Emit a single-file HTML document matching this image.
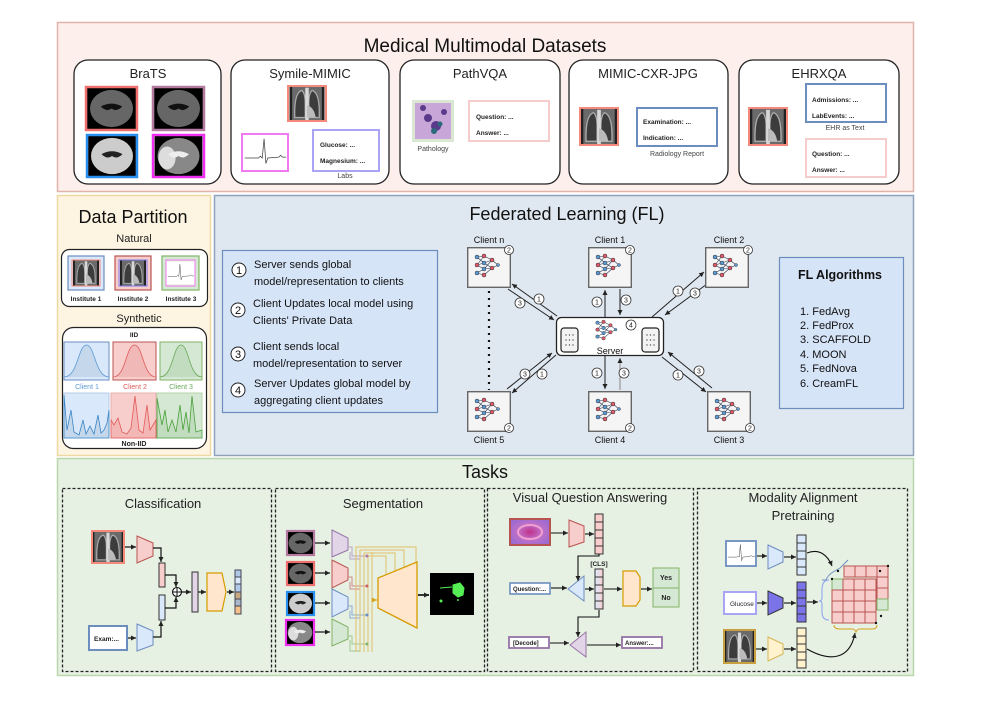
<!DOCTYPE html>
<html><head><meta charset="utf-8"><style>
html,body{margin:0;padding:0;background:#fff;width:996px;height:703px;overflow:hidden}
svg{display:block;font-family:"Liberation Sans",Arial,sans-serif}
</style></head><body>
<svg width="996" height="703" viewBox="0 0 996 703" xmlns="http://www.w3.org/2000/svg">
<defs>
<marker id="ah" markerWidth="8" markerHeight="8" refX="7" refY="4" orient="auto" markerUnits="userSpaceOnUse"><path d="M0,0.8 L7,4 L0,7.2 Z" fill="#111"/></marker>
<marker id="ahs" markerWidth="6" markerHeight="6" refX="5" refY="3" orient="auto" markerUnits="userSpaceOnUse"><path d="M0,0.5 L5,3 L0,5.5 Z" fill="#222"/></marker>
<marker id="ahy" markerWidth="6" markerHeight="6" refX="5" refY="3" orient="auto" markerUnits="userSpaceOnUse"><path d="M0,0.5 L5,3 L0,5.5 Z" fill="#d6a21b"/></marker>
<radialGradient id="path" cx="50%" cy="50%" r="60%"><stop offset="0" stop-color="#c0308a"/><stop offset="0.5" stop-color="#c070c8"/><stop offset="1" stop-color="#9a6ad0"/></radialGradient>
<symbol id="xray" viewBox="0 0 40 40">
<rect width="40" height="40" fill="#6a6a6a"/>
<rect x="0" y="0" width="3" height="40" fill="#222"/><rect x="37" y="0" width="3" height="40" fill="#222"/>
<path d="M6 36 Q5 8 14 5 Q18 8 18 20 L18 36Z" fill="#3c3c3c" stroke="#aaa" stroke-width="1.5"/>
<path d="M34 36 Q35 8 26 5 Q22 8 22 20 L22 36Z" fill="#3c3c3c" stroke="#aaa" stroke-width="1.5"/>
<rect x="18" y="2" width="4" height="38" fill="#d8d8d8"/>
<path d="M20 22 Q28 24 30 36 L20 36Z" fill="#bbb"/>
</symbol>
<symbol id="brain" viewBox="0 0 50 44">
<rect width="50" height="44" fill="#000"/>
<ellipse cx="25" cy="22" rx="22" ry="19" fill="#666"/>
<path d="M14 20 Q25 14 36 20 Q30 26 25 22 Q20 26 14 20Z" fill="#111"/>
</symbol>
<symbol id="brainw" viewBox="0 0 50 44">
<rect width="50" height="44" fill="#000"/>
<ellipse cx="25" cy="22" rx="22" ry="19" fill="#ccc"/>
<path d="M14 20 Q25 14 36 20 Q30 26 25 22 Q20 26 14 20Z" fill="#222"/>
</symbol>
<symbol id="brainf" viewBox="0 0 50 44">
<rect width="50" height="44" fill="#000"/>
<ellipse cx="25" cy="22" rx="22" ry="19" fill="#888"/>
<ellipse cx="13" cy="24" rx="9" ry="12" fill="#ddd"/>
<path d="M14 20 Q25 14 36 20 Q30 26 25 22 Q20 26 14 20Z" fill="#eee"/>
</symbol>
<symbol id="nn" viewBox="0 0 30 26">
<g stroke="#2b3a55" stroke-width="0.6" fill="none">
<path d="M4 4L11 3M4 4L11 10M4 12L11 3M4 12L11 10M4 12L11 16M4 20L11 16M4 20L11 22M11 3L19 7M11 10L19 7M11 10L19 15M11 16L19 15M11 22L19 15M11 16L19 7M19 7L25 12M19 15L25 12"/>
</g>
<g stroke="#333" stroke-width="0.5">
<circle cx="4" cy="4" r="2" fill="#5b9bd5"/><circle cx="4" cy="12" r="2" fill="#e05a6a"/><circle cx="4" cy="20" r="2" fill="#5b9bd5"/>
<circle cx="11" cy="3" r="2" fill="#e05a6a"/><circle cx="11" cy="10" r="2" fill="#5b9bd5"/><circle cx="11" cy="16" r="2" fill="#5b9bd5"/><circle cx="11" cy="22" r="2" fill="#e05a6a"/>
<circle cx="19" cy="7" r="2" fill="#e05a6a"/><circle cx="19" cy="15" r="2" fill="#e05a6a"/><circle cx="25" cy="12" r="1.5" fill="#5b9bd5"/>
</g>
</symbol>
<symbol id="client" viewBox="0 0 44 41" overflow="visible">
<rect x="0.7" y="0.7" width="42.6" height="39.6" fill="#f5f5f5" stroke="#666" stroke-width="1.4"/>
<use href="#nn" x="6" y="6" width="30" height="26"/>
</symbol>
<symbol id="ecg" viewBox="0 0 50 40">
<rect width="50" height="40" fill="#fff"/>
<path d="M3 26 L18 26 L20 24 L22 26 L24 5 L26 32 L28 26 L40 25 L42 23 L44 25 L48 25" stroke="#444" stroke-width="0.8" fill="none"/>
</symbol>
<linearGradient id="cg" x1="0" x2="1"><stop offset="0" stop-color="#dae8fc"/><stop offset="1" stop-color="#f8cecc"/></linearGradient>
</defs>

<!-- ===== TOP PANEL ===== -->
<rect x="57.5" y="22.5" width="856" height="169" fill="#fcefec" stroke="#e0b3ab" stroke-width="1.5"/>
<text x="485" y="52" font-size="19" text-anchor="middle" fill="#111">Medical Multimodal Datasets</text>

<g fill="#fff" stroke="#222" stroke-width="1.3">
<rect x="74" y="60" width="147" height="124" rx="14"/>
<rect x="231" y="60" width="158" height="124" rx="14"/>
<rect x="400" y="60" width="160" height="124" rx="14"/>
<rect x="569" y="60" width="159" height="124" rx="14"/>
<rect x="739" y="60" width="160" height="124" rx="14"/>
</g>
<g font-size="13" text-anchor="middle" fill="#222">
<text x="148" y="78">BraTS</text><text x="310" y="78">Symile-MIMIC</text><text x="480" y="78">PathVQA</text><text x="648" y="78">MIMIC-CXR-JPG</text><text x="819" y="78">EHRXQA</text>
</g>
<use href="#brain" x="86" y="87" width="51" height="43"/><rect x="86" y="87" width="51" height="43" fill="none" stroke="#f07070" stroke-width="2.5"/>
<use href="#brain" x="153" y="87" width="51" height="43"/><rect x="153" y="87" width="51" height="43" fill="none" stroke="#b47aa0" stroke-width="2.5"/>
<use href="#brainw" x="87" y="135" width="50" height="42"/><rect x="87" y="135" width="50" height="42" fill="none" stroke="#2a8fef" stroke-width="2.5"/>
<use href="#brainf" x="153" y="135" width="51" height="42"/><rect x="153" y="135" width="51" height="42" fill="none" stroke="#f030f0" stroke-width="2.5"/>
<use href="#xray" x="288" y="86" width="38" height="35"/><rect x="288" y="86" width="38" height="35" fill="none" stroke="#f58a7a" stroke-width="2"/>
<use href="#ecg" x="242" y="134" width="46" height="37"/><rect x="242" y="134" width="46" height="37" fill="none" stroke="#f27af0" stroke-width="2"/>
<rect x="313" y="130" width="66" height="41" fill="#fff" stroke="#a9a4f4" stroke-width="2"/>
<g font-size="6.5" font-weight="bold" fill="#222"><text x="320" y="147">Glucose: ...</text><text x="320" y="163">Magnesium: ...</text></g>
<text x="345" y="178" font-size="7" text-anchor="middle" fill="#444">Labs</text>
<rect x="412" y="100" width="42" height="42" fill="#d9e7d3"/>
<rect x="415" y="103" width="36" height="36" fill="#c9a6d8"/>
<g fill="#5a3a8a"><circle cx="428" cy="118" r="4"/><circle cx="436" cy="126" r="5"/><circle cx="423" cy="108" r="3"/><circle cx="444" cy="112" r="3"/></g>
<g fill="#2a6a7a"><circle cx="434" cy="131" r="3"/><circle cx="440" cy="124" r="2.5"/></g>
<text x="433" y="151" font-size="7" text-anchor="middle" fill="#444">Pathology</text>
<rect x="469" y="101" width="80" height="40" fill="#fff" stroke="#f4cccc" stroke-width="2"/>
<g font-size="6.5" font-weight="bold" fill="#222"><text x="476" y="119">Question: ...</text><text x="476" y="135">Answer: ...</text></g>
<use href="#xray" x="580" y="108" width="38" height="37"/><rect x="580" y="108" width="38" height="37" fill="none" stroke="#f58a7a" stroke-width="2"/>
<rect x="637" y="108" width="80" height="38" fill="#fff" stroke="#6c8ebf" stroke-width="2"/>
<g font-size="6.5" font-weight="bold" fill="#222"><text x="643" y="124">Examination: ...</text><text x="643" y="140">Indication: ...</text></g>
<text x="677" y="156" font-size="7" text-anchor="middle" fill="#444">Radiology Report</text>
<use href="#xray" x="749" y="108" width="38" height="37"/><rect x="749" y="108" width="38" height="37" fill="none" stroke="#f58a7a" stroke-width="2"/>
<rect x="806" y="84" width="80" height="38" fill="#fff" stroke="#6c8ebf" stroke-width="2"/>
<g font-size="6.5" font-weight="bold" fill="#222"><text x="812" y="102">Admissions: ...</text><text x="812" y="118">LabEvents: ...</text></g>
<text x="845" y="130" font-size="7" text-anchor="middle" fill="#444">EHR as Text</text>
<rect x="806" y="139" width="80" height="38" fill="#fff" stroke="#f4cccc" stroke-width="2"/>
<g font-size="6.5" font-weight="bold" fill="#222"><text x="812" y="156">Question: ...</text><text x="812" y="172">Answer: ...</text></g>

<!-- ===== DATA PARTITION ===== -->
<rect x="57.5" y="195.5" width="153" height="260" fill="#fdf4e1" stroke="#efd9a3" stroke-width="1.5"/>
<text x="133" y="223" font-size="18" text-anchor="middle" fill="#111">Data Partition</text>
<text x="134" y="242" font-size="11" text-anchor="middle" fill="#222">Natural</text>
<rect x="61.5" y="249.5" width="146" height="57" rx="8" fill="#fff" stroke="#222" stroke-width="1.2"/>
<rect x="68" y="256" width="36" height="34" fill="#dae8fc" stroke="#6c8ebf" stroke-width="1.2"/>
<use href="#xray" x="72" y="260" width="28" height="26"/><rect x="72" y="260" width="28" height="26" fill="none" stroke="#f58a7a" stroke-width="1"/>
<rect x="115" y="256" width="36" height="34" fill="#f8cecc" stroke="#b85450" stroke-width="1.2"/>
<use href="#xray" x="119" y="260" width="28" height="26"/><rect x="119" y="260" width="28" height="26" fill="none" stroke="#7a7af0" stroke-width="1"/>
<rect x="162" y="256" width="37" height="34" fill="#d5e8d4" stroke="#82b366" stroke-width="1.2"/>
<use href="#ecg" x="166" y="260" width="29" height="26"/><rect x="166" y="260" width="29" height="26" fill="none" stroke="#f27af0" stroke-width="1"/>
<g font-size="6.5" font-weight="bold" fill="#222" text-anchor="middle"><text x="86" y="301">Institute 1</text><text x="133" y="301">Institute 2</text><text x="181" y="301">Institute 3</text></g>
<text x="139" y="322" font-size="11" text-anchor="middle" fill="#222">Synthetic</text>
<rect x="62.5" y="327.5" width="144" height="121" rx="11" fill="#fff" stroke="#222" stroke-width="1.2"/>
<text x="134" y="337" font-size="6.5" font-weight="bold" text-anchor="middle" fill="#222">IID</text>
<rect x="64" y="342" width="45" height="38" fill="#dae8fc" stroke="#6c8ebf"/>
<path d="M64,377 C78,377 78,345 86.5,345 C95,345 95,377 109,377" fill="#c5d7ea" stroke="#5b9bd5" stroke-width="0.8"/>
<rect x="113" y="342" width="43" height="38" fill="#f8cecc" stroke="#b85450"/>
<path d="M113,377 C126,377 126,345 134.5,345 C143,345 143,377 156,377" fill="#f0b8b6" stroke="#e05a5a" stroke-width="0.8"/>
<rect x="160" y="342" width="42" height="38" fill="#d5e8d4" stroke="#82b366"/>
<path d="M160,377 C173,377 173,345 181,345 C189,345 189,377 202,377" fill="#c2dcc0" stroke="#6aaa5a" stroke-width="0.8"/>
<g font-size="7" text-anchor="middle"><text x="87" y="389" fill="#5b9bd5">Client 1</text><text x="135" y="389" fill="#e05a5a">Client 2</text><text x="181" y="389" fill="#6aaa5a">Client 3</text></g>
<rect x="64" y="393" width="45" height="45" fill="#dae8fc" stroke="#b8cce4"/>
<path d="M64,395 L67,430 L71,410 L74,432 L79,435 L83,420 L86,434 L90,426 L94,434 L98,415 L101,433 L104,430 L107,423 L109,410 L109,438 L64,438Z" fill="#c5d7ea" stroke="#3a85c5" stroke-width="0.8"/>
<rect x="111" y="393" width="45" height="45" fill="#f8cecc" stroke="#e6b0ae"/>
<path d="M111,420 L114,425 L118,418 L122,432 L127,434 L131,428 L135,396 L139,430 L143,433 L147,405 L150,430 L156,420 L156,438 L111,438Z" fill="#f3b8b6" stroke="#e05a5a" stroke-width="0.8"/>
<rect x="157" y="393" width="45" height="45" fill="#d5e8d4" stroke="#b5d4a9"/>
<path d="M157,398 L162,425 L165,410 L168,432 L172,420 L176,432 L180,405 L183,430 L186,412 L189,433 L192,396 L196,432 L202,430 L202,438 L157,438Z" fill="#c2dcc0" stroke="#4aa03a" stroke-width="0.8"/>
<text x="134" y="446" font-size="7" font-weight="bold" text-anchor="middle" fill="#222">Non-IID</text>

<!-- ===== FL PANEL ===== -->
<rect x="214.5" y="195.5" width="699" height="260" fill="#dfe7f0" stroke="#8ea2b9" stroke-width="1.5"/>
<text x="567" y="220" font-size="18" text-anchor="middle" fill="#111">Federated Learning (FL)</text>
<rect x="222.5" y="250.5" width="215" height="162" fill="#d6e4f8" stroke="#6c8ebf" stroke-width="1.2"/>
<g fill="#fff" stroke="#222" stroke-width="1"><circle cx="239" cy="270" r="7"/><circle cx="238" cy="310" r="7"/><circle cx="238" cy="354" r="7"/><circle cx="238" cy="390" r="7"/></g>
<g font-size="11" text-anchor="middle" fill="#111"><text x="239" y="274">1</text><text x="238" y="314">2</text><text x="238" y="358">3</text><text x="238" y="394">4</text></g>
<g font-size="11" fill="#111">
<text x="254" y="268">Server sends global</text><text x="254" y="285">model/representation to clients</text>
<text x="253" y="307">Client Updates local model using</text><text x="253" y="324">Clients' Private Data</text>
<text x="253" y="350">Client sends local</text><text x="253" y="367">model/representation to server</text>
<text x="254" y="387">Server Updates global model by</text><text x="254" y="404">aggregating client updates</text>
</g>
<rect x="779.5" y="257.5" width="124" height="151" fill="#d6e4f8" stroke="#6c8ebf" stroke-width="1.2"/>
<text x="840" y="279" font-size="12.5" font-weight="bold" text-anchor="middle" fill="#111">FL Algorithms</text>
<g font-size="11" fill="#111"><text x="800" y="315">1. FedAvg</text><text x="800" y="329">2. FedProx</text><text x="800" y="343">3. SCAFFOLD</text><text x="800" y="358">4. MOON</text><text x="800" y="372">5. FedNova</text><text x="800" y="387">6. CreamFL</text></g>

<line x1="489" y1="291" x2="489" y2="390" stroke="#111" stroke-width="2.2" stroke-dasharray="2,5"/>
<g stroke="#222" stroke-width="1" marker-end="url(#ahs)">
<line x1="508" y1="289" x2="554" y2="320"/><line x1="557" y1="316" x2="512" y2="284"/>
<line x1="605" y1="317" x2="605" y2="290"/><line x1="620" y1="289" x2="620" y2="315"/>
<line x1="652" y1="317" x2="704" y2="272"/><line x1="707" y1="284" x2="665" y2="315"/>
<line x1="556" y1="355" x2="512" y2="393"/><line x1="507" y1="389" x2="552" y2="353"/>
<line x1="605" y1="356" x2="605" y2="389"/><line x1="620" y1="390" x2="620" y2="358" stroke="#888"/>
<line x1="662" y1="357" x2="706" y2="392"/><line x1="712" y1="388" x2="668" y2="352"/>
</g>
<g>
<use href="#client" x="467" y="247" width="44" height="41"/>
<use href="#client" x="588" y="247" width="44" height="41"/>
<use href="#client" x="705" y="247" width="44" height="41"/>
<use href="#client" x="467" y="391" width="44" height="41"/>
<use href="#client" x="588" y="391" width="44" height="41"/>
<use href="#client" x="707" y="391" width="44" height="41"/>
</g>
<g fill="#fff" stroke="#333" stroke-width="0.8">
<circle cx="509" cy="250" r="4.5"/><circle cx="630" cy="250" r="4.5"/><circle cx="748" cy="250" r="4.5"/>
<circle cx="509" cy="428" r="4.5"/><circle cx="630" cy="428" r="4.5"/><circle cx="750" cy="428" r="4.5"/>
</g>
<g font-size="7" text-anchor="middle" fill="#222"><text x="509" y="252.5">2</text><text x="630" y="252.5">2</text><text x="748" y="252.5">2</text><text x="509" y="430.5">2</text><text x="630" y="430.5">2</text><text x="750" y="430.5">2</text></g>
<g font-size="9" text-anchor="middle" fill="#111">
<text x="489" y="243">Client n</text><text x="610" y="243">Client 1</text><text x="729" y="243">Client 2</text>
<text x="489" y="443">Client 5</text><text x="610" y="443">Client 4</text><text x="729" y="443">Client 3</text>
</g>
<rect x="556.5" y="317.5" width="107" height="38" rx="5" fill="#fff" stroke="#222" stroke-width="1.3"/>
<rect x="561" y="328" width="17" height="24" rx="3" fill="#f3f3f3" stroke="#222" stroke-width="1.2"/>
<rect x="642" y="328" width="17" height="24" rx="3" fill="#f3f3f3" stroke="#222" stroke-width="1.2"/>
<g fill="#555"><circle cx="566" cy="335" r="0.7"/><circle cx="569.5" cy="335" r="0.7"/><circle cx="573" cy="335" r="0.7"/><circle cx="566" cy="340" r="0.7"/><circle cx="569.5" cy="340" r="0.7"/><circle cx="573" cy="340" r="0.7"/><circle cx="566" cy="345" r="0.7"/><circle cx="569.5" cy="345" r="0.7"/><circle cx="573" cy="345" r="0.7"/>
<circle cx="647" cy="335" r="0.7"/><circle cx="650.5" cy="335" r="0.7"/><circle cx="654" cy="335" r="0.7"/><circle cx="647" cy="340" r="0.7"/><circle cx="650.5" cy="340" r="0.7"/><circle cx="654" cy="340" r="0.7"/><circle cx="647" cy="345" r="0.7"/><circle cx="650.5" cy="345" r="0.7"/><circle cx="654" cy="345" r="0.7"/></g>
<use href="#nn" x="594" y="319" width="26" height="23"/>
<text x="610" y="354" font-size="9" text-anchor="middle" fill="#111">Server</text>
<g fill="#fff" stroke="#333" stroke-width="0.8">
<circle cx="631" cy="325" r="5"/>
<circle cx="539" cy="299" r="5"/><circle cx="520" cy="303" r="5"/>
<circle cx="597" cy="302" r="5"/><circle cx="626" cy="300" r="5"/>
<circle cx="678" cy="291" r="5"/><circle cx="695" cy="293" r="5"/>
<circle cx="525" cy="374" r="5"/><circle cx="542" cy="374" r="5"/>
<circle cx="597" cy="373" r="5"/><circle cx="624" cy="373" r="5"/>
<circle cx="678" cy="375" r="5"/><circle cx="699" cy="371" r="5"/>
</g>
<g font-size="7" text-anchor="middle" fill="#222">
<text x="631" y="327.5">4</text>
<text x="539" y="301.5">1</text><text x="520" y="305.5">3</text>
<text x="597" y="304.5">1</text><text x="626" y="302.5">3</text>
<text x="678" y="293.5">1</text><text x="695" y="295.5">3</text>
<text x="525" y="376.5">3</text><text x="542" y="376.5">1</text>
<text x="597" y="375.5">1</text><text x="624" y="375.5">3</text>
<text x="678" y="377.5">1</text><text x="699" y="373.5">3</text>
</g>

<!-- ===== TASKS ===== -->
<rect x="57.5" y="458.5" width="856" height="217" fill="#e6f0e3" stroke="#b9d7ab" stroke-width="1.5"/>
<text x="485" y="478" font-size="18" text-anchor="middle" fill="#111">Tasks</text>
<g fill="none" stroke="#222" stroke-width="1.3" stroke-dasharray="3,2">
<rect x="62.5" y="488.5" width="209" height="183"/>
<rect x="275.5" y="488.5" width="209" height="183"/>
<rect x="487.5" y="488.5" width="206" height="183"/>
<rect x="697.5" y="488.5" width="210" height="183"/>
</g>
<g font-size="13" text-anchor="middle" fill="#222">
<text x="163" y="508">Classification</text><text x="383" y="508">Segmentation</text><text x="590" y="502">Visual Question Answering</text>
<text x="803" y="502">Modality Alignment</text><text x="803" y="520">Pretraining</text>
</g>

<use href="#xray" x="92" y="531" width="32" height="32"/><rect x="92" y="531" width="32" height="32" fill="none" stroke="#f58a7a" stroke-width="2"/>
<rect x="89" y="626" width="38" height="24" fill="#fff" stroke="#6c8ebf" stroke-width="2"/>
<text x="94" y="641" font-size="6.5" font-weight="bold" fill="#222">Exam:...</text>
<path d="M137,536 L153,543 L153,556 L137,563Z" fill="#f8cecc" stroke="#b85450"/>
<path d="M137,624 L153,631 L153,645 L137,651Z" fill="#dae8fc" stroke="#6c8ebf"/>
<rect x="159" y="563" width="6" height="24" fill="#f8cecc" stroke="#333"/>
<rect x="159" y="595" width="6" height="25" fill="#dae8fc" stroke="#333"/>
<g stroke="#111" stroke-width="1.2" fill="none" marker-end="url(#ahs)">
<line x1="125" y1="547" x2="136" y2="547"/><line x1="128" y1="638" x2="136" y2="638"/>
<path d="M153,548 L161,548 L161,562"/><path d="M153,637 L161,637 L161,621"/>
<path d="M165,575 L176,575 L176,587"/><path d="M165,608 L176,608 L176,597"/>
<line x1="182" y1="592" x2="191" y2="592"/><line x1="198" y1="592" x2="206" y2="592"/><line x1="227" y1="592" x2="234" y2="592"/>
</g>
<circle cx="177" cy="592" r="4.5" fill="#fff" stroke="#111" stroke-width="1.1"/>
<path d="M172.5,592 H181.5 M177,587.5 V596.5" stroke="#111" stroke-width="1"/>
<rect x="192" y="572" width="6" height="40" fill="#e1d5e7" stroke="#333"/>
<path d="M207,573 L222,573 L226,592 L222,611 L207,611Z" fill="#ffe6cc" stroke="#d79b00" stroke-width="1.2"/>
<g stroke="#445" stroke-width="1">
<rect x="235" y="570" width="6" height="7" fill="#b1c9e6"/><rect x="235" y="577" width="6" height="7" fill="#dae8fc"/><rect x="235" y="584" width="6" height="8" fill="#b1c9e6"/><rect x="235" y="592" width="6" height="7" fill="#c8a882"/><rect x="235" y="599" width="6" height="7" fill="#a9b8c8"/><rect x="235" y="606" width="6" height="8" fill="#f5c08a"/>
</g>

<use href="#brain" x="287" y="531" width="27" height="24"/><rect x="287" y="531" width="27" height="24" fill="none" stroke="#b47aa0" stroke-width="2.2"/>
<use href="#brain" x="287" y="562" width="27" height="23"/><rect x="287" y="562" width="27" height="23" fill="none" stroke="#f07070" stroke-width="2.2"/>
<use href="#brainw" x="287" y="592" width="27" height="23"/><rect x="287" y="592" width="27" height="23" fill="none" stroke="#2a8fef" stroke-width="2.2"/>
<use href="#brainf" x="286" y="620" width="28" height="25"/><rect x="286" y="620" width="28" height="25" fill="none" stroke="#f030f0" stroke-width="2.2"/>
<g stroke="#111" stroke-width="1.2" marker-end="url(#ahs)">
<line x1="315" y1="543" x2="330" y2="543"/><line x1="315" y1="573" x2="330" y2="573"/><line x1="315" y1="603" x2="330" y2="603"/><line x1="315" y1="632" x2="330" y2="632"/>
</g>
<path d="M332,530 L348,538 L348,550 L332,557Z" fill="#e1d5e7" stroke="#9673a6"/>
<path d="M332,560 L348,568 L348,580 L332,588Z" fill="#f8cecc" stroke="#b85450"/>
<path d="M332,589 L348,597 L348,609 L332,617Z" fill="#dae8fc" stroke="#6c8ebf"/>
<path d="M332,619 L348,627 L348,639 L332,646Z" fill="#d5e8d4" stroke="#82b366"/>
<g fill="none" stroke-width="1">
<path d="M348,547 L352,547 L352,556 L367,556 M350,552 L350,559 L360,559" stroke="#b8a0c8"/>
<path d="M348,577 L352,577 L352,586 L367,586 M350,582 L350,589 L360,589" stroke="#d08888"/>
<path d="M348,606 L352,606 L352,615 L367,615 M350,611 L350,618 L360,618" stroke="#8eaad0"/>
<path d="M348,636 L352,636 L352,644 L367,644 M350,640 L350,651 L360,651" stroke="#a0c890"/>
<path d="M356,652 L356,547 L416,547 L416,564 M360,652 L360,550 L404,550 L404,567 M364,652 L364,553 L395,553 L395,571 M368,652 L368,556 L386,556 L386,574 M371,600 L378,600 M372,652 L372,552" stroke="#e2c26a"/>
<path d="M372,600 L377,600" stroke="#d6a21b" marker-end="url(#ahy)"/>
</g>
<g fill="#b47aa0"><circle cx="367" cy="556" r="1.5"/></g><g fill="#d06060"><circle cx="367" cy="586" r="1.5"/></g><g fill="#6c8ebf"><circle cx="367" cy="615" r="1.5"/></g><g fill="#82b366"><circle cx="367" cy="644" r="1.5"/></g>
<path d="M378,578 L417,562 L417,628 L378,608Z" fill="#ffe6cc" stroke="#d79b00" stroke-width="1.3"/>
<line x1="418" y1="595" x2="429" y2="595" stroke="#333" stroke-width="2" marker-end="url(#ahs)"/>
<rect x="430" y="573" width="44" height="42" fill="#000"/>
<path d="M453,585 L460,583 L464,588 L463,595 L458,597 L453,593Z M440,588 L452,587" fill="#55ee55" stroke="#55ee55"/>
<circle cx="441" cy="601" r="1.5" fill="#55ee55"/><circle cx="458" cy="600" r="1" fill="#55ee55"/>

<rect x="510" y="519" width="40" height="26" fill="url(#path)" stroke="#b85450" stroke-width="2"/>
<ellipse cx="530" cy="532" rx="12" ry="7" fill="none" stroke="#f0a0d0" stroke-width="2"/>
<path d="M569,520 L584,526 L584,542 L569,547Z" fill="#f8cecc" stroke="#b85450"/>
<g stroke="#333" fill="#f8cecc"><rect x="595" y="514" width="8" height="8"/><rect x="595" y="522" width="8" height="8"/><rect x="595" y="530" width="8" height="8"/><rect x="595" y="538" width="8" height="8"/><rect x="595" y="546" width="8" height="8"/></g>
<text x="599" y="566" font-size="6.5" font-weight="bold" text-anchor="middle" fill="#222">[CLS]</text>
<rect x="510" y="583" width="40" height="11" fill="#fff" stroke="#6c8ebf" stroke-width="1.6"/>
<text x="513" y="591" font-size="6" font-weight="bold" fill="#222">Question:...</text>
<path d="M568,589 L584,576 L584,601 Z" fill="#dae8fc" stroke="#6c8ebf"/>
<g stroke="#333" fill="url(#cg)"><rect x="595" y="569" width="8" height="8"/><rect x="595" y="577" width="8" height="8"/><rect x="595" y="585" width="8" height="8"/><rect x="595" y="593" width="8" height="8"/><rect x="595" y="601" width="8" height="8"/></g>
<path d="M623,571 L636,571 L640,577 L640,600 L636,606 L623,606Z" fill="#ffe6cc" stroke="#d79b00" stroke-width="1.2"/>
<rect x="653" y="568" width="26" height="20" fill="#d5e8d4" stroke="#82b366"/><rect x="653" y="588" width="26" height="19" fill="#d5e8d4" stroke="#82b366"/>
<g font-size="7" font-weight="bold" text-anchor="middle" fill="#222"><text x="666" y="580">Yes</text><text x="666" y="600">No</text></g>
<rect x="509" y="637" width="40" height="11" fill="#fff" stroke="#9673a6" stroke-width="1.8"/>
<text x="513" y="645" font-size="6" font-weight="bold" fill="#222">[Decode]</text>
<path d="M570,645 L586,632 L586,657Z" fill="#e1d5e7" stroke="#9673a6"/>
<rect x="622" y="637" width="40" height="11" fill="#fff" stroke="#9673a6" stroke-width="1.8"/>
<text x="625" y="645" font-size="6" font-weight="bold" fill="#222">Answer:...</text>
<g stroke="#111" stroke-width="1.1" fill="none" marker-end="url(#ahs)">
<line x1="551" y1="533" x2="568" y2="533"/><line x1="585" y1="534" x2="594" y2="534"/>
<path d="M599,554 L599,556 L578,556 L578,581"/>
<line x1="551" y1="588" x2="567" y2="588"/><line x1="585" y1="589" x2="594" y2="589"/>
<line x1="604" y1="589" x2="622" y2="589"/><line x1="641" y1="589" x2="652" y2="589"/>
<path d="M599,610 L599,617 L578,617 L578,637"/>
<line x1="550" y1="643" x2="569" y2="643"/><line x1="587" y1="645" x2="621" y2="645"/>
</g>

<use href="#ecg" x="726" y="541" width="30" height="25"/><rect x="726" y="541" width="30" height="25" fill="none" stroke="#6c8ebf" stroke-width="1.8"/>
<rect x="724" y="592" width="32" height="22" fill="#fff" stroke="#a9a4f4" stroke-width="2"/>
<text x="730" y="606" font-size="6.5" fill="#222">Glucose</text>
<use href="#xray" x="724" y="630" width="31" height="33"/><rect x="724" y="630" width="31" height="33" fill="none" stroke="#c9a040" stroke-width="2"/>
<path d="M768,545 L783,552 L783,562 L768,569Z" fill="#dae8fc" stroke="#6c8ebf"/>
<path d="M768,591 L783,598 L783,608 L768,615Z" fill="#7b74e8" stroke="#333"/>
<path d="M768,637 L783,644 L783,654 L768,661Z" fill="#fff2cc" stroke="#d6b656"/>
<g stroke="#333"><rect x="797" y="535" width="9" height="8" fill="#dae8fc"/><rect x="797" y="543" width="9" height="8" fill="#dae8fc"/><rect x="797" y="551" width="9" height="8" fill="#dae8fc"/><rect x="797" y="559" width="9" height="8" fill="#dae8fc"/><rect x="797" y="567" width="9" height="8" fill="#dae8fc"/>
<rect x="797" y="582" width="9" height="8" fill="#7b74e8"/><rect x="797" y="590" width="9" height="8" fill="#7b74e8"/><rect x="797" y="598" width="9" height="8" fill="#7b74e8"/><rect x="797" y="606" width="9" height="8" fill="#7b74e8"/><rect x="797" y="614" width="9" height="8" fill="#7b74e8"/>
<rect x="797" y="628" width="9" height="8" fill="#fff2cc"/><rect x="797" y="636" width="9" height="8" fill="#fff2cc"/><rect x="797" y="644" width="9" height="8" fill="#fff2cc"/><rect x="797" y="652" width="9" height="8" fill="#fff2cc"/><rect x="797" y="660" width="9" height="8" fill="#fff2cc"/></g>
<g stroke="#111" stroke-width="1.1" fill="none" marker-end="url(#ahs)">
<line x1="757" y1="556" x2="767" y2="556"/><line x1="784" y1="557" x2="796" y2="557"/>
<line x1="757" y1="603" x2="767" y2="603"/><line x1="784" y1="603" x2="796" y2="603"/><line x1="807" y1="602" x2="818" y2="602"/>
<line x1="756" y1="649" x2="767" y2="649"/><line x1="784" y1="649" x2="796" y2="649"/>
<path d="M807,553 C820,548 828,556 832,566"/>
<path d="M807,649 C830,662 850,660 855,633"/>
</g>
<path d="M822,580 L826,580 Q828,575 833,572 L840,568 Q845,563 848,560" fill="none" stroke="#6c8ebf" stroke-width="1"/>
<path d="M829,580 Q822,580 822,590 L822,598 Q822,601 819,601 Q822,601 822,604 L822,612 Q822,620 829,620" fill="none" stroke="#8aa0f0" stroke-width="1"/>
<path d="M834,625 Q834,629 840,629 L852,629 Q855,629 856,632 Q857,629 860,629 L872,629 Q877,629 877,625" fill="none" stroke="#d6a21b" stroke-width="1"/>
<g stroke="#b85450" stroke-width="1" fill="#f8cecc">
<rect x="844" y="566" width="11" height="11"/><rect x="855" y="566" width="11" height="11"/><rect x="866" y="566" width="11" height="11"/><rect x="877" y="566" width="11" height="11"/>
<rect x="877" y="577" width="11" height="11"/><rect x="877" y="588" width="11" height="11"/><rect x="877" y="599" width="11" height="11" fill="#d5e8d4" stroke="#82b366"/>
</g>
<g stroke="#b85450" stroke-width="1" fill="#f8cecc">
<rect x="832" y="579" width="11" height="11" fill="#d5e8d4" stroke="#82b366"/><rect x="843" y="579" width="11" height="11"/><rect x="854" y="579" width="11" height="11"/><rect x="865" y="579" width="11" height="11"/>
<rect x="832" y="590" width="11" height="11"/><rect x="843" y="590" width="11" height="11"/><rect x="854" y="590" width="11" height="11"/><rect x="865" y="590" width="11" height="11"/>
<rect x="832" y="601" width="11" height="11"/><rect x="843" y="601" width="11" height="11"/><rect x="854" y="601" width="11" height="11"/><rect x="865" y="601" width="11" height="11"/>
<rect x="832" y="612" width="11" height="11"/><rect x="843" y="612" width="11" height="11"/><rect x="854" y="612" width="11" height="11"/><rect x="865" y="612" width="11" height="11"/>
</g>
<g fill="#111"><circle cx="838" cy="571" r="1.2"/><circle cx="880" cy="571" r="1.2"/><circle cx="832" cy="579" r="1.2"/><circle cx="876" cy="623" r="1.2"/><circle cx="881" cy="616" r="1.2"/><circle cx="888" cy="566" r="1.2"/></g>
</svg>
</body></html>
